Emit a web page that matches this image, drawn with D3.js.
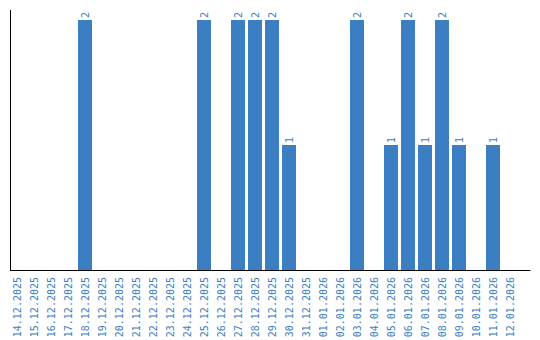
<!DOCTYPE html>
<html><head><meta charset="utf-8">
<script src="https://cdn.jsdelivr.net/npm/d3@7"></script>
<style>body{margin:0;background:#fff}svg{display:block}</style>
</head><body>
<script>
const dates = ["14.12.2025","15.12.2025","16.12.2025","17.12.2025","18.12.2025","19.12.2025","20.12.2025","21.12.2025","22.12.2025","23.12.2025","24.12.2025","25.12.2025","26.12.2025","27.12.2025","28.12.2025","29.12.2025","30.12.2025","31.12.2025","01.01.2026","02.01.2026","03.01.2026","04.01.2026","05.01.2026","06.01.2026","07.01.2026","08.01.2026","09.01.2026","10.01.2026","11.01.2026","12.01.2026"];
const counts = [0,0,0,0,2,0,0,0,0,0,0,2,0,2,2,2,1,0,0,0,2,0,1,2,1,2,1,0,1,0];
const yDomain = [0, 2];

const W = 540, H = 340;
const color = "#3b7ec2";
const font = "'DejaVu Sans Mono', monospace";
const svg = d3.select("body").append("svg").attr("width", W).attr("height", H);

const x = d3.scaleBand().domain(dates).range([8.5, 518.5]).paddingInner(3/17).paddingOuter(3/34);
const y = d3.scaleLinear().domain(yDomain).range([270, 20]);
const data = dates.map((d, i) => ({date: d, value: counts[i]}));

svg.selectAll("rect.bar").data(data.filter(d => d.value > 0)).join("rect")
  .attr("class", "bar")
  .attr("x", d => x(d.date)).attr("width", x.bandwidth())
  .attr("y", d => y(d.value)).attr("height", d => y(0) - y(d.value))
  .attr("fill", color);

svg.selectAll("text.val").data(data.filter(d => d.value > 0)).join("text")
  .attr("class", "val")
  .attr("transform", d => `translate(${x(d.date) + x.bandwidth()/2},${y(d.value) - 2}) rotate(-90)`)
  .attr("dy", "0.35em")
  .attr("text-anchor", "start")
  .attr("font-family", font).attr("font-size", 10)
  .attr("fill", color)
  .text(d => d.value);

// axes lines
const xAxis = d3.axisBottom(x).tickSize(0).tickPadding(0);
const gx = svg.append("g").attr("transform", "translate(0,270)").call(xAxis);
gx.select(".domain").remove();
gx.selectAll("text")
  .attr("font-family", font).attr("font-size", 10).attr("fill", color)
  .attr("text-anchor", "end")
  .attr("dy", null).attr("y", null)
  .attr("transform", "translate(0,7) rotate(-90)")
  .attr("dy", "0.35em").attr("x", 0);

svg.append("line").attr("x1", 10).attr("x2", 530.5).attr("y1", 270.5).attr("y2", 270.5)
  .attr("stroke", "#000").attr("stroke-width", 1);
svg.append("line").attr("x1", 10.5).attr("x2", 10.5).attr("y1", 10).attr("y2", 271)
  .attr("stroke", "#000").attr("stroke-width", 1);
</script>
</body></html>
